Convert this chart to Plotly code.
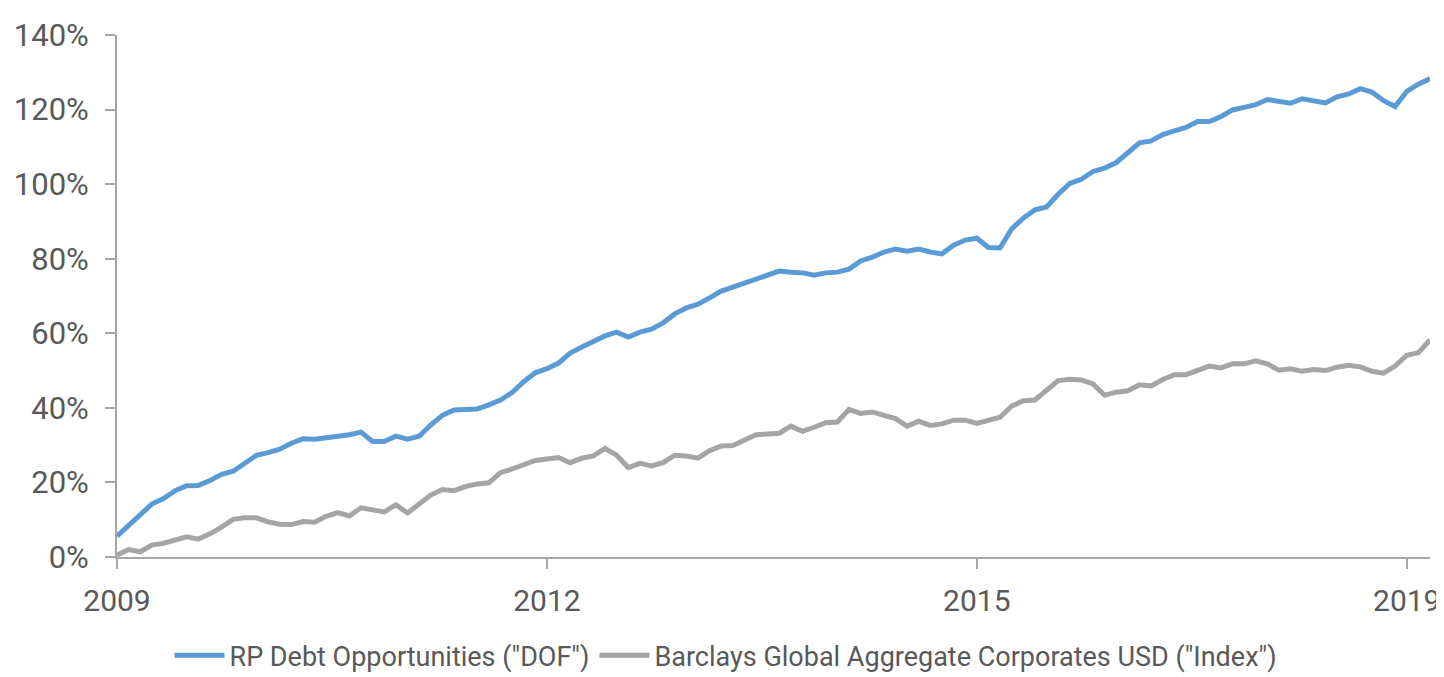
import plotly.graph_objects as go

# Monthly cumulative returns (%)
dof = [5.6, 8.6, 11.3, 14.2, 15.7, 17.8, 19.1, 19.2, 20.5, 22.2, 23.0, 25.3, 27.3, 28.0, 28.9, 30.5, 31.7, 31.6, 32.0, 32.3,
       32.8, 33.5, 31.0, 31.0, 32.4, 31.6, 32.4, 35.4, 38.0, 39.4, 39.7, 39.7, 40.8, 42.1, 44.1, 47.0, 49.4, 50.5, 52.0,
       54.7, 56.3, 57.7, 59.3, 60.3, 59.0, 60.3, 61.1, 62.8, 65.2, 66.8, 67.8, 69.5, 71.3, 72.4, 73.5, 74.8, 75.9, 76.7,
       76.4, 76.2, 75.6, 76.2, 76.4, 77.2, 79.4, 80.4, 81.8, 82.6, 82.0, 82.6, 81.8, 81.3,
       83.6, 85.0, 85.5, 83.0, 82.9, 88.0, 90.9, 93.1, 93.9, 97.3, 100.2, 101.3, 103.4, 104.3, 105.8, 108.4, 111.1, 111.6,
       113.3, 114.3, 115.2, 116.8, 116.8, 118.1, 119.9, 120.6, 121.3, 122.7, 122.2, 121.7, 122.9, 122.2, 121.8, 123.4,
       124.2, 125.6, 124.7, 122.4, 120.8, 124.9, 126.8, 128.3]

index = [0.5, 2.0, 1.4, 3.2, 3.7, 4.4, 5.4, 4.8, 6.2, 8.0, 10.1, 10.5, 10.5, 9.4, 8.8, 8.7, 9.5, 9.3, 10.9, 11.9,
         11.0, 13.2, 12.6, 12.1, 14.0, 11.8, 14.2, 16.6, 18.1, 17.8, 18.9, 19.6, 19.9, 22.6, 23.6, 24.7, 25.9, 26.3, 26.7,
         25.3, 26.5, 27.1, 29.1, 27.3, 24.0, 25.1, 24.4, 25.3, 27.3, 27.1, 26.5, 28.5, 29.8, 29.9, 31.4, 32.8, 33.0, 33.2,
         35.1, 33.7, 34.8, 36.0, 36.2, 39.6, 38.5, 38.9, 38.0, 37.1, 35.1, 36.4, 35.3, 35.7,
         36.7, 36.7, 35.8, 36.6, 37.5, 40.5, 41.9, 42.1, 44.6, 47.3, 47.7, 47.5, 46.4, 43.4, 44.2, 44.6, 46.2, 45.9,
         47.6, 48.9, 48.9, 50.0, 51.2, 50.7, 51.8, 51.8, 52.6, 51.8, 50.1, 50.5, 49.8, 50.3, 50.0, 50.9, 51.4, 51.0,
         49.8, 49.3, 51.2, 54.1, 54.8, 58.2]

months = list(range(len(dof)))
tick_pos = [0, 37, 74, 111]
tick_labels = ["2009", "2012", "2015", "2019"]
y_ticks = [0, 20, 40, 60, 80, 100, 120, 140]

FONT = "Roboto"
AXIS = "#A6A6A6"
TXT = "#595959"

fig = go.Figure()
fig.add_trace(go.Scatter(x=months, y=dof, mode="lines", name='RP Debt Opportunities ("DOF")',
                         line=dict(color="#5B9BD5", width=5)))
fig.add_trace(go.Scatter(x=months, y=index, mode="lines", name='Barclays Global Aggregate Corporates USD ("Index")',
                         line=dict(color="#A5A5A5", width=5)))

fig.update_layout(
    width=1436, height=669,
    margin=dict(l=109, r=14, t=27, b=120, autoexpand=False),
    paper_bgcolor="white", plot_bgcolor="white",
    font=dict(family=FONT, color=TXT),
    showlegend=True,
    legend=dict(orientation="h", x=0.5, xanchor="center", xref="container",
                y=0.032, yanchor="middle", yref="container",
                font=dict(size=27, color=TXT, family=FONT), itemwidth=50, traceorder="normal"),
    xaxis=dict(range=[0, len(dof) - 1], tickmode="array", tickvals=tick_pos, ticktext=tick_labels,
               showline=True, linecolor=AXIS, linewidth=2, ticks="outside", ticklen=10, tickwidth=2,
               tickcolor=AXIS, showgrid=False, zeroline=False, automargin=False,
               ticklabelstandoff=6, tickfont=dict(size=30, color=TXT)),
    yaxis=dict(range=[0, 140], tickmode="array", tickvals=y_ticks, ticktext=[f"{v}%" for v in y_ticks],
               showline=True, linecolor=AXIS, linewidth=2, ticks="outside", ticklen=10, tickwidth=2,
               tickcolor=AXIS, showgrid=False, zeroline=False, automargin=False,
               ticklabelstandoff=10, tickfont=dict(size=31, color=TXT)),
)

fig.write_html("out.html")
